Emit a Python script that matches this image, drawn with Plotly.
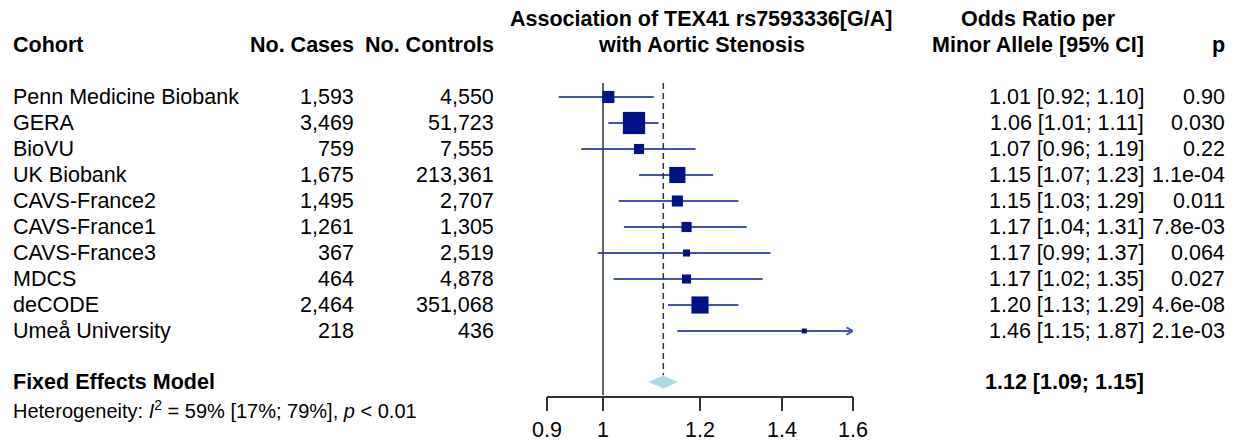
import math
import plotly.graph_objects as go

# ---------------- data ----------------
cohorts = ["Penn Medicine Biobank", "GERA", "BioVU", "UK Biobank", "CAVS-France2",
           "CAVS-France1", "CAVS-France3", "MDCS", "deCODE", "Umeå University"]
n_cases = [1593, 3469, 759, 1675, 1495, 1261, 367, 464, 2464, 218]
n_controls = [4550, 51723, 7555, 213361, 2707, 1305, 2519, 4878, 351068, 436]
odds_ratio = [1.01, 1.06, 1.07, 1.15, 1.15, 1.17, 1.17, 1.17, 1.20, 1.46]
ci_lower = [0.92, 1.01, 0.96, 1.07, 1.03, 1.04, 0.99, 1.02, 1.13, 1.15]
ci_upper = [1.10, 1.11, 1.19, 1.23, 1.29, 1.31, 1.37, 1.35, 1.29, 1.87]
p_values = ["0.90", "0.030", "0.22", "1.1e-04", "0.011", "7.8e-03", "0.064", "0.027", "4.6e-08", "2.1e-03"]
weights = [8.7, 29.4, 6.1, 15.5, 7.3, 6.1, 3.0, 4.9, 17.5, 1.5]  # % weight (fixed effect)

fixed_or = 1.12
fixed_lo = 1.09
fixed_hi = 1.15
het_text = "Heterogeneity: <i>I</i><sup>2</sup> = 59% [17%; 79%], <i>p</i> < 0.01"

x_ticks = [0.9, 1, 1.2, 1.4, 1.6]
x_min, x_max = 0.9, 1.6

title_lines = ["Association of TEX41 rs7593336[G/A]", "with Aortic Stenosis"]
or_header = ["Odds Ratio per", "Minor Allele [95% CI]"]

# ---------------- layout helpers ----------------
W, H = 1237, 446
ROW0_PX, ROW_STEP = 97, 26          # pixel centre of row 0, row spacing
AXIS_PX = 395.5                     # pixel of x-axis line
AX_L, AX_R = 547, 853               # pixel extent of the x axis
FONT = "Liberation Sans, Arial, Helvetica, sans-serif"
FS = 21.5

def px_to_r(py):
    return (py - ROW0_PX) / ROW_STEP

y_top = px_to_r(0)
y_bot = px_to_r(AXIS_PX)

SQ_COL = "#00118a"
LN_COL = "#4253b0"
REF_COL = "#333333"

fig = go.Figure()

rows = list(range(len(cohorts)))

# CI lines
cx, cy = [], []
for i in rows:
    cx += [ci_lower[i], min(ci_upper[i], x_max), None]
    cy += [i, i, None]
fig.add_trace(go.Scatter(x=cx, y=cy, mode="lines", line=dict(color=LN_COL, width=1.8),
                         hoverinfo="skip"))

# arrows for truncated CIs
px_per_log = (AX_R - AX_L) / math.log(x_max / x_min)
dlog = 6.5 / px_per_log
ax_, ay_ = [], []
for i in rows:
    if ci_upper[i] > x_max:
        xb = x_max * math.exp(-dlog)
        ax_ += [xb, x_max, xb, None]
        ay_ += [i - 0.14, i, i + 0.14, None]
fig.add_trace(go.Scatter(x=ax_, y=ay_, mode="lines", line=dict(color=LN_COL, width=1.8),
                         hoverinfo="skip"))

# reference lines
fig.add_trace(go.Scatter(x=[1, 1], y=[px_to_r(83), y_bot], mode="lines",
                         line=dict(color=REF_COL, width=1.5), hoverinfo="skip"))
r_fix = px_to_r(382)
fig.add_trace(go.Scatter(x=[fixed_or, fixed_or], y=[px_to_r(83), r_fix - 0.26], mode="lines",
                         line=dict(color=REF_COL, width=1.5, dash="6px,4px"), hoverinfo="skip"))

# squares
sizes = [4.1 * math.sqrt(w) for w in weights]
fig.add_trace(go.Scatter(x=odds_ratio, y=rows, mode="markers",
                         marker=dict(symbol="square", size=sizes, color=SQ_COL, opacity=1,
                                     line=dict(width=0)),
                         cliponaxis=False, hoverinfo="skip"))

# diamond
fig.add_trace(go.Scatter(x=[fixed_lo, fixed_or, fixed_hi, fixed_or, fixed_lo],
                         y=[r_fix, r_fix - 0.24, r_fix, r_fix + 0.24, r_fix],
                         mode="lines", fill="toself", fillcolor="#add8e6",
                         line=dict(color="#add8e6", width=0.5), hoverinfo="skip"))

# ---------------- text ----------------
annos = []
def txt(xpx, r, s, anchor, bold=False, yref="y", size=FS):
    annos.append(dict(x=xpx / W, xref="paper", y=r, yref=yref,
                      text=("<b>%s</b>" % s) if bold else s,
                      xanchor=anchor, yanchor="middle", showarrow=False,
                      font=dict(family=FONT, size=size, color="black")))

L_X, CASE_X, CTRL_X, OR_X, P_X = 11, 356, 496, 1146, 1227
r_h1, r_h2 = px_to_r(19), px_to_r(45)

txt(L_X, r_h2, "Cohort", "left", True)
txt(CASE_X, r_h2, "No. Cases", "right", True)
txt(CTRL_X, r_h2, "No. Controls", "right", True)
txt(701, r_h1, title_lines[0], "center", True)
txt(701, r_h2, title_lines[1], "center", True)
txt(1038, r_h1, or_header[0], "center", True)
txt(1038, r_h2, or_header[1], "center", True)
txt(P_X, r_h2, "p", "right", True)

for i in rows:
    txt(L_X, i, cohorts[i], "left")
    txt(CASE_X, i, f"{n_cases[i]:,}", "right")
    txt(CTRL_X, i, f"{n_controls[i]:,}", "right")
    txt(OR_X, i, f"{odds_ratio[i]:.2f} [{ci_lower[i]:.2f}; {ci_upper[i]:.2f}]", "right")
    txt(P_X, i, p_values[i], "right")

txt(L_X, r_fix, "Fixed Effects Model", "left", True)
txt(OR_X, r_fix, f"{fixed_or:.2f} [{fixed_lo:.2f}; {fixed_hi:.2f}]", "right", True)
txt(L_X, (H - 409) / H, het_text, "left", yref="paper", size=20)

fig.update_layout(
    width=W, height=H, margin=dict(l=0, r=0, t=0, b=0, pad=0, autoexpand=False),
    paper_bgcolor="white", plot_bgcolor="white", showlegend=False,
    annotations=annos,
    xaxis=dict(type="log", range=[math.log10(x_min), math.log10(x_max)],
               domain=[AX_L / W, AX_R / W], showgrid=False, zeroline=False,
               automargin=False,
               showline=True, linecolor=REF_COL, linewidth=1.5,
               ticks="outside", ticklen=14, tickwidth=1.5, tickcolor=REF_COL,
               tickvals=x_ticks, ticktext=[f"{t:g}" for t in x_ticks],
               tickfont=dict(family=FONT, size=FS, color="black")),
    yaxis=dict(range=[y_bot, y_top], domain=[(H - AXIS_PX) / H, 1], visible=False,
               automargin=False, showgrid=False, zeroline=False),
)

fig.write_html("out.html")
